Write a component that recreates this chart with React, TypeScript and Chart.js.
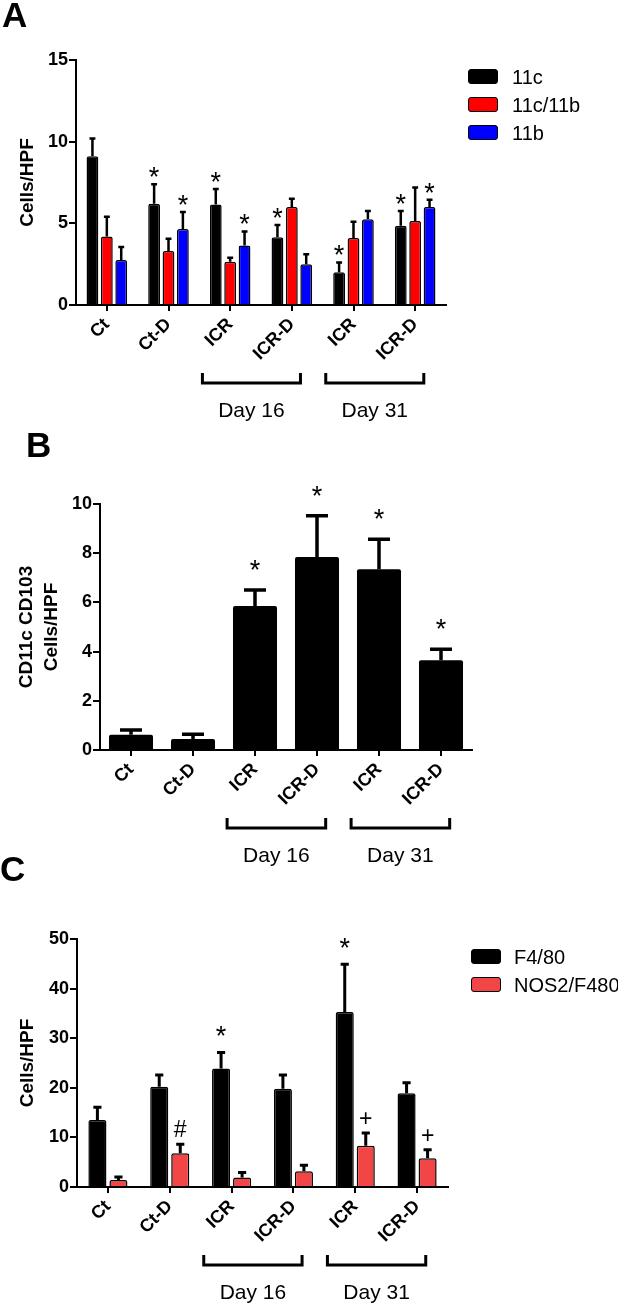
import React, { useEffect, useRef } from 'react';
import { Chart, registerables } from 'chart.js';

Chart.register(...registerables);

const FONT = 'Arial, "Liberation Sans", Helvetica, sans-serif';

// ---------- shared ----------
const categories = ['Ct', 'Ct-D', 'ICR', 'ICR-D', 'ICR', 'ICR-D'];
const dayGroups = [
  { label: 'Day 16', from: 2, to: 3 },
  { label: 'Day 31', from: 4, to: 5 },
];

// ---------- panel A ----------
const aYTicks = [0, 5, 10, 15];
const a11c = [9.1, 6.2, 6.15, 4.15, 2.0, 4.85];
const a11cErr = [1.1, 1.2, 0.95, 0.75, 0.6, 0.9];
const a11c11b = [4.2, 3.3, 2.65, 6.0, 4.1, 5.15];
const a11c11bErr = [1.2, 0.75, 0.25, 0.5, 1.0, 2.05];
const a11b = [2.75, 4.65, 3.65, 2.5, 5.25, 6.0];
const a11bErr = [0.8, 1.05, 0.85, 0.6, 0.5, 0.45];
const a11cMarks = ['', '*', '*', '*', '*', '*'];
const a11c11bMarks = ['', '', '', '', '', ''];
const a11bMarks = ['', '*', '*', '', '', '*'];

// ---------- panel B ----------
const bYTicks = [0, 2, 4, 6, 8, 10];
const bValues = [0.62, 0.45, 5.85, 7.85, 7.35, 3.65];
const bErr = [0.19, 0.19, 0.65, 1.67, 1.22, 0.45];
const bMarks = ['', '', '*', '*', '*', '*'];

// ---------- panel C ----------
const cYTicks = [0, 10, 20, 30, 40, 50];
const cF480 = [13.5, 20.2, 23.9, 19.8, 35.3, 18.9];
const cF480Err = [2.6, 2.4, 3.2, 2.8, 9.6, 2.1];
const cNos2 = [1.4, 6.8, 1.9, 3.2, 8.3, 5.8];
const cNos2Err = [0.6, 1.8, 1.0, 1.2, 2.6, 1.7];
const cF480Marks = ['', '', '*', '', '*', ''];
const cNos2Marks = ['', '#', '', '', '+', '+'];

type AnnotOpts = {
  errs: number[][];
  marks: string[][];
  errWidth: number;
  capFrac: number;
  starGap: number;
  symGap: number;
};

function makeAnnot(o: AnnotOpts) {
  return {
    id: 'annot',
    afterDatasetsDraw(chart: any) {
      const ctx = chart.ctx;
      const y = chart.scales.y;
      ctx.save();
      chart.data.datasets.forEach((ds: any, di: number) => {
        const meta = chart.getDatasetMeta(di);
        meta.data.forEach((bar: any, i: number) => {
          const v = ds.data[i] as number;
          const top = v + o.errs[di][i];
          const yv = y.getPixelForValue(v);
          const yt = y.getPixelForValue(top);
          const cap = bar.width * o.capFrac;
          ctx.strokeStyle = '#000';
          ctx.lineWidth = o.errWidth;
          ctx.lineCap = 'butt';
          ctx.beginPath();
          ctx.moveTo(bar.x, yv);
          ctx.lineTo(bar.x, yt);
          ctx.moveTo(bar.x - cap / 2, yt);
          ctx.lineTo(bar.x + cap / 2, yt);
          ctx.stroke();
          const m = o.marks[di][i];
          if (m) {
            const size = m === '*' ? 27 : 23;
            ctx.font = `${size}px ${FONT}`;
            ctx.fillStyle = '#000';
            ctx.textAlign = 'center';
            ctx.textBaseline = 'alphabetic';
            const gap = m === '*' ? o.starGap : o.symGap;
            const cy = yt - gap;
            const shift = m === '*' ? 0.55 : 0.35;
            ctx.fillText(m, bar.x, cy + shift * size);
          }
        });
      });
      ctx.restore();
    },
    afterDraw(chart: any) {
      const ctx = chart.ctx;
      const x = chart.scales.x;
      const area = chart.chartArea;
      const cat = (x.right - x.left) / categories.length;
      ctx.save();
      ctx.strokeStyle = '#000';
      ctx.fillStyle = '#000';
      ctx.lineWidth = 3;
      ctx.lineJoin = 'miter';
      dayGroups.forEach((g) => {
        const l = x.getPixelForValue(g.from) - 0.45 * cat;
        const r = x.getPixelForValue(g.to) + 0.14 * cat;
        const by = area.bottom + 78;
        ctx.beginPath();
        ctx.moveTo(l, by - 10);
        ctx.lineTo(l, by);
        ctx.lineTo(r, by);
        ctx.lineTo(r, by - 10);
        ctx.stroke();
        ctx.font = `21px ${FONT}`;
        ctx.textAlign = 'center';
        ctx.textBaseline = 'middle';
        ctx.fillText(g.label, (l + r) / 2, area.bottom + 106);
      });
      ctx.restore();
    },
  };
}

type PanelProps = {
  top: number;
  height: number;
  padTop: number;
  plotH: number;
  padRight: number;
  yWidth: number;
  yTicks: number[];
  yMax: number;
  yTitle: string | string[];
  yTitleLH: number;
  yTitlePad: number;
  datasets: any[];
  catPct: number;
  barPct: number;
  annot: AnnotOpts;
};

function Panel(p: PanelProps) {
  const ref = useRef<HTMLCanvasElement | null>(null);
  useEffect(() => {
    if (!ref.current) return;
    const chart = new Chart(ref.current, {
      type: 'bar',
      data: {
        labels: categories,
        datasets: p.datasets.map((d) => ({
          ...d,
          categoryPercentage: p.catPct,
          barPercentage: p.barPct,
          borderRadius: 2,
          borderSkipped: 'start',
        })),
      },
      options: {
        responsive: false,
        animation: false,
        devicePixelRatio: 1,
        layout: { padding: { top: p.padTop, right: p.padRight, left: 0, bottom: 0 } },
        plugins: { legend: { display: false }, tooltip: { enabled: false } },
        scales: {
          x: {
            type: 'category',
            offset: true,
            afterFit: (s: any) => {
              s.height = p.height - p.padTop - p.plotH;
            },
            border: { color: '#000', width: 2 },
            grid: { offset: false, drawOnChartArea: false, color: '#000', lineWidth: 2, tickLength: 6 },
            ticks: {
              color: '#000',
              autoSkip: false,
              minRotation: 45,
              maxRotation: 45,
              padding: 3,
              font: { family: FONT, size: 18, weight: 'bold' },
            },
          },
          y: {
            min: 0,
            max: p.yMax,
            afterBuildTicks: (s: any) => {
              s.ticks = p.yTicks.map((v) => ({ value: v }));
            },
            afterFit: (s: any) => {
              s.width = p.yWidth;
            },
            border: { color: '#000', width: 2 },
            grid: { drawOnChartArea: false, color: '#000', lineWidth: 2, tickLength: 7 },
            ticks: { color: '#000', padding: 1, font: { family: FONT, size: 18, weight: 'bold' } },
            title: {
              display: true,
              text: p.yTitle,
              color: '#000',
              font: { family: FONT, size: 19, weight: 'bold', lineHeight: p.yTitleLH },
              padding: { top: p.yTitlePad, bottom: 0 },
            },
          },
        },
      } as any,
      plugins: [makeAnnot(p.annot)],
    });
    return () => chart.destroy();
  }, []);
  return (
    <canvas
      ref={ref}
      width={618}
      height={p.height}
      style={{ position: 'absolute', left: 0, top: p.top, width: 618, height: p.height }}
    />
  );
}

function Letter({ ch, left, top }: { ch: string; left: number; top: number }) {
  return (
    <div
      style={{
        position: 'absolute',
        left,
        top,
        fontFamily: FONT,
        fontWeight: 'bold',
        fontSize: 35,
        lineHeight: '35px',
        color: '#000',
      }}
    >
      {ch}
    </div>
  );
}

function LegendItem({ left, top, color, label, textLeft }: any) {
  return (
    <>
      <div
        style={{
          position: 'absolute',
          left,
          top,
          width: 30,
          height: 15,
          boxSizing: 'border-box',
          background: color,
          border: '1.5px solid #000',
          borderRadius: 3,
        }}
      />
      <div
        style={{
          position: 'absolute',
          left: textLeft,
          top: top + 7.5 - 10,
          fontFamily: FONT,
          fontSize: 20,
          lineHeight: '20px',
          color: '#000',
          whiteSpace: 'nowrap',
        }}
      >
        {label}
      </div>
    </>
  );
}

const RED_A = '#ff0000';
const BLUE_A = '#0000ff';
const RED_C = '#f24545';

export default function App() {
  const panelA: any = {
    top: 0,
    height: 440,
    padTop: 60,
    plotH: 245,
    padRight: 172,
    yWidth: 76,
    yTicks: aYTicks,
    yMax: 15,
    yTitle: 'Cells/HPF',
    yTitleLH: 1.2,
    yTitlePad: 16,
    catPct: 0.7,
    barPct: 0.82,
    datasets: [
      { label: '11c', data: a11c, backgroundColor: '#000', borderColor: '#000', borderWidth: 1.5 },
      { label: '11c/11b', data: a11c11b, backgroundColor: RED_A, borderColor: '#000', borderWidth: 1.5 },
      { label: '11b', data: a11b, backgroundColor: BLUE_A, borderColor: '#000', borderWidth: 1.5 },
    ],
    annot: {
      errs: [a11cErr, a11c11bErr, a11bErr],
      marks: [a11cMarks, a11c11bMarks, a11bMarks],
      errWidth: 2.5,
      capFrac: 0.5,
      starGap: 13,
      symGap: 15,
    },
  };
  const panelB: any = {
    top: 440,
    height: 440,
    padTop: 64,
    plotH: 246,
    padRight: 146,
    yWidth: 100,
    yTicks: bYTicks,
    yMax: 10,
    yTitle: ['CD11c CD103', 'Cells/HPF'],
    yTitleLH: 1.32,
    yTitlePad: 14.5,
    catPct: 1,
    barPct: 0.71,
    datasets: [{ label: 'CD11c CD103', data: bValues, backgroundColor: '#000', borderColor: '#000', borderWidth: 0 }],
    annot: {
      errs: [bErr],
      marks: [bMarks],
      errWidth: 3.5,
      capFrac: 0.5,
      starGap: 26,
      symGap: 15,
    },
  };
  const panelC: any = {
    top: 880,
    height: 425,
    padTop: 59,
    plotH: 248,
    padRight: 170,
    yWidth: 77,
    yTicks: cYTicks,
    yMax: 50,
    yTitle: 'Cells/HPF',
    yTitleLH: 1.2,
    yTitlePad: 16,
    catPct: 0.68,
    barPct: 0.86,
    datasets: [
      { label: 'F4/80', data: cF480, backgroundColor: '#000', borderColor: '#000', borderWidth: 1.5 },
      { label: 'NOS2/F480', data: cNos2, backgroundColor: RED_C, borderColor: '#000', borderWidth: 1.5 },
    ],
    annot: {
      errs: [cF480Err, cNos2Err],
      marks: [cF480Marks, cNos2Marks],
      errWidth: 3,
      capFrac: 0.45,
      starGap: 22,
      symGap: 15,
    },
  };

  return (
    <div style={{ position: 'absolute', left: 0, top: 0, width: 618, height: 1305, background: '#fff', overflow: 'hidden' }}>
      <Panel {...panelA} />
      <Panel {...panelB} />
      <Panel {...panelC} />
      <Letter ch="A" left={2} top={-3} />
      <Letter ch="B" left={26} top={427} />
      <Letter ch="C" left={0} top={851} />
      <LegendItem left={468} top={69} color="#000" label="11c" textLeft={512} />
      <LegendItem left={468} top={97} color={RED_A} label="11c/11b" textLeft={512} />
      <LegendItem left={468} top={125} color={BLUE_A} label="11b" textLeft={512} />
      <LegendItem left={471} top={949} color="#000" label="F4/80" textLeft={514} />
      <LegendItem left={471} top={977} color={RED_C} label="NOS2/F480" textLeft={514} />
    </div>
  );
}
